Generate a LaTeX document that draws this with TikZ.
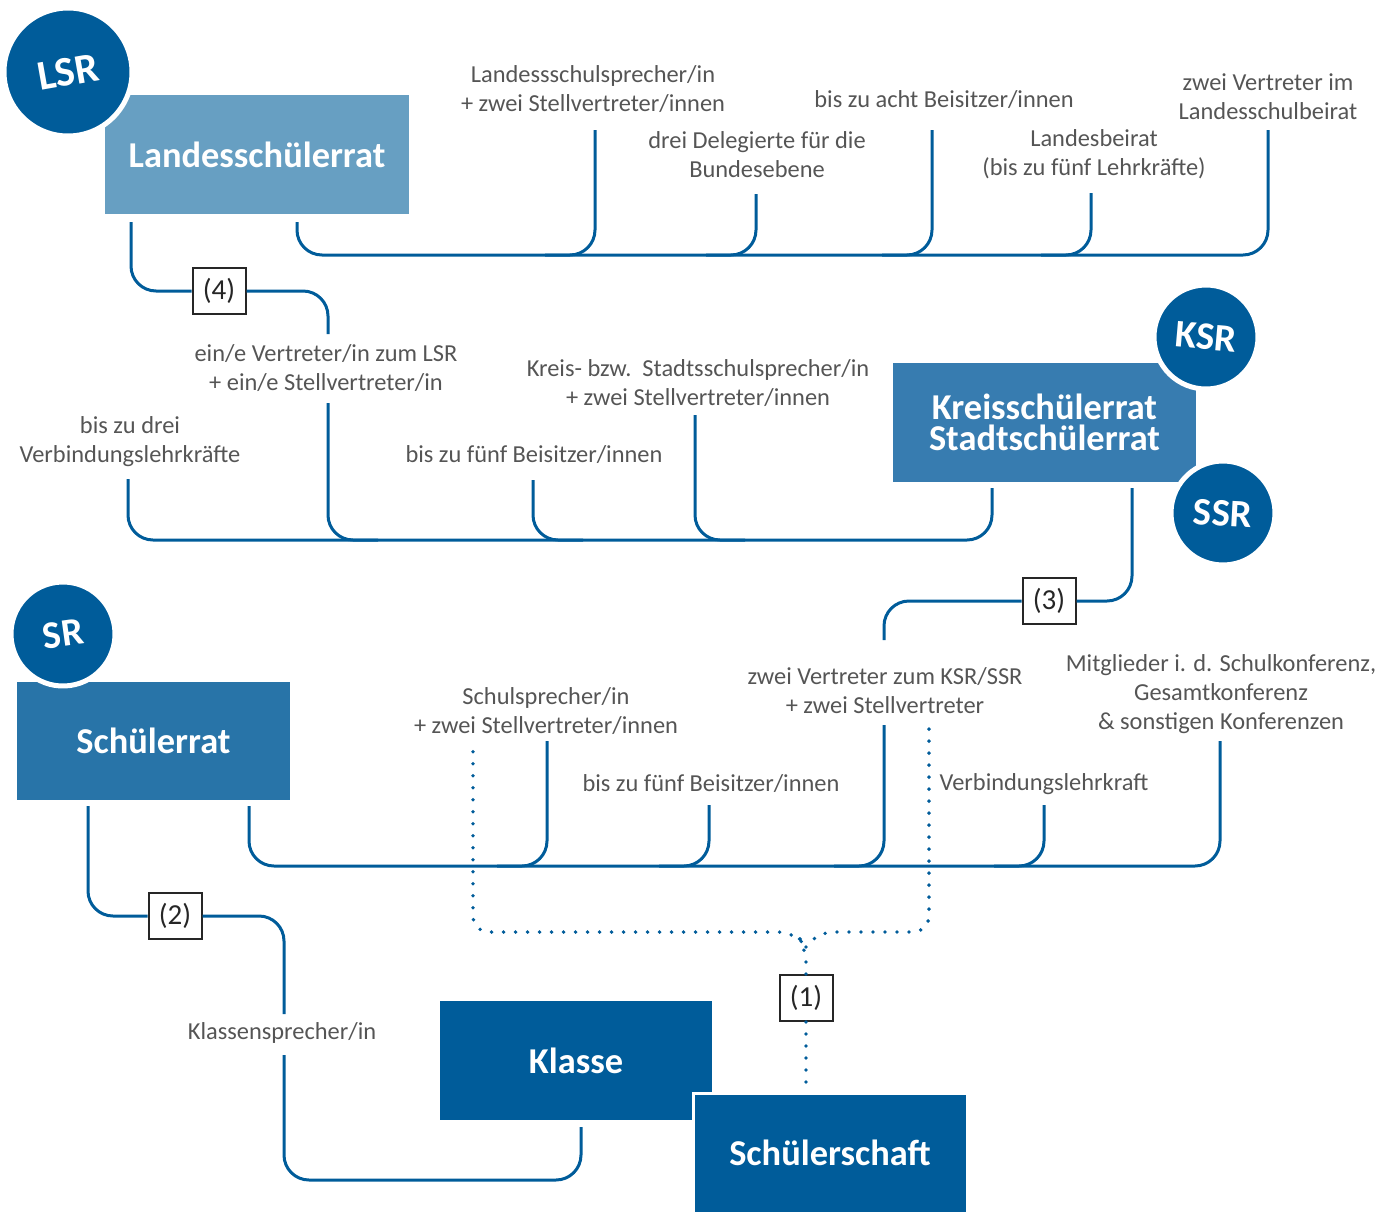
\documentclass[tikz,border=0pt]{standalone}
\usepackage{fontspec}
\setmainfont{Carlito}
\definecolor{dblue}{HTML}{005C9A}
\definecolor{lblue}{HTML}{679FC2}
\definecolor{mblue}{HTML}{377CB0}
\definecolor{sblue}{HTML}{2874A8}
\definecolor{tgrey}{HTML}{555555}
\begin{document}
\begin{tikzpicture}[x=0.5pt,y=-0.5pt,
  conn/.style={draw=dblue, line width=1.5pt, rounded corners=12.5pt},
  dotconn/.style={draw=dblue, line width=1.9pt, line cap=round, dash pattern=on 0pt off 6pt, rounded corners=8pt},
  lab/.style={text=tgrey, font=\fontsize{12.2}{14.5}\selectfont, align=center, inner sep=0pt},
  bigbox/.style={rectangle, text=white, inner sep=0pt, align=center, font=\bfseries\fontsize{18.2}{15.8}\selectfont},
  numbox/.style={rectangle, draw=black!85, line width=1pt, fill=white, minimum width=26.5pt, minimum height=23pt, font=\fontsize{14.5}{14.5}\selectfont, text=black!85, inner sep=0pt},
  circ/.style={circle, fill=dblue, draw=white, line width=2.5pt, text=white, font=\bfseries\fontsize{19.5}{19.5}\selectfont, inner sep=0pt, minimum size=52pt}]
\useasboundingbox (0,0) rectangle (1393,1211);

% ---------- top level: Landesschuelerrat ----------
\node[bigbox, fill=lblue, minimum width=152pt, minimum height=59.5pt] (lsrbox) at (257,154.5) {Landesschülerrat};
\node[circ, minimum size=64pt, font=\bfseries\fontsize{21}{21}\selectfont, rotate=10] (lsrc) at (68,72) {LSR};

\node[lab] (t1) at (593,89.5) {Landessschulsprecher/in\\+ zwei Stellvertreter/innen};
\node[lab] (t2) at (757,154.5) {drei Delegierte für die\\Bundesebene};
\node[lab] (t3) at (944,100) {bis zu acht Beisitzer/innen};
\node[lab] (t4) at (1094,154.5) {Landesbeirat\\(bis zu fünf Lehrkräfte)};
\node[lab] (t5) at (1268,97) {zwei Vertreter im\\Landesschulbeirat};

\coordinate (tb1) at (595,130);
\coordinate (tb2) at (756,194);
\coordinate (tb3) at (932,130);
\coordinate (tb4) at (1091,193);
\coordinate (tb5) at (1268,130);
\coordinate (ts) at (297,222);

\draw[conn] (ts) |- (tb5 |- 0,255) -- (tb5);
\foreach \b in {tb1,tb2,tb3,tb4}
  \draw[conn] (\b) |- ([xshift=-25pt]\b |- 0,255);

% ---------- connector (4) ----------
\node[numbox] (n4) at (219,291) {(4)};
\coordinate (s4) at (131,222);
\coordinate (e4) at (328,334);
\draw[conn] (s4) |- (n4.west);
\draw[conn] (n4.east) -| (e4);

% ---------- middle level: Kreisschuelerrat ----------
\node[bigbox, fill=mblue, minimum width=151.5pt, minimum height=59.5pt] (ksrbox) at (1044.5,422.5) {Kreisschülerrat\\Stadtschülerrat};
\node[circ, rotate=-5] (ksrc) at (1206,337) {KSR};
\node[circ, rotate=-3] (ssrc) at (1223,513) {SSR};

\node[lab] (m1) at (130,441.5) {bis zu drei\\Verbindungslehrkräfte};
\node[lab] (m2) at (326,368.5) {ein/e Vertreter/in zum LSR\\+ ein/e Stellvertreter/in};
\node[lab] (m3) at (534,455) {bis zu fünf Beisitzer/innen};
\node[lab] (m4) at (698,383) {Kreis- bzw.\ \ Stadtsschulsprecher/in\\+ zwei Stellvertreter/innen};

\coordinate (mb0) at (128,479);
\coordinate (mb1) at (328,403);
\coordinate (mb2) at (533,480);
\coordinate (mb3) at (695,415);
\coordinate (mb4) at (992,488);

\draw[conn] (mb0) |- (mb4 |- 0,540) -- (mb4);
\foreach \b in {mb1,mb2,mb3}
  \draw[conn] (\b) |- ([xshift=25pt]\b |- 0,540);

% ---------- connector (3) ----------
\node[numbox] (n3) at (1049,601) {(3)};
\coordinate (s3) at (1132,488);
\coordinate (e3) at (884,640);
\draw[conn] (s3) |- (n3.east);
\draw[conn] (n3.west) -| (e3);

% ---------- school level: Schuelerrat ----------
\node[bigbox, fill=sblue, minimum width=136.5pt, minimum height=59pt] (srbox) at (153.5,741) {Schülerrat};
\node[circ, rotate=8] (src) at (63,634) {SR};

\node[lab] (b1) at (546,711.5) {Schulsprecher/in\\+ zwei Stellvertreter/innen};
\node[lab] (b2) at (711,784) {bis zu fünf Beisitzer/innen};
\node[lab] (b3) at (885,691) {zwei Vertreter zum KSR/SSR\\+ zwei Stellvertreter};
\node[lab] (b4) at (1044,784) {Verbindungslehrkraft};
\node[lab] (b5) at (1221,694) {Mitglieder i. d. Schulkonferenz,\\Gesamtkonferenz\\\& sonstigen Konferenzen};

\coordinate (bb0) at (249,806);
\coordinate (bb1) at (547,741);
\coordinate (bb2) at (709,805);
\coordinate (bb3) at (884,725);
\coordinate (bb4) at (1044,805);
\coordinate (bb5) at (1220,741);

\draw[conn] (bb0) |- (bb5 |- 0,866) -- (bb5);
\foreach \b in {bb1,bb2,bb3,bb4}
  \draw[conn] (\b) |- ([xshift=-25pt]\b |- 0,866);

% ---------- connector (2) ----------
\node[numbox] (n2) at (175,916) {(2)};
\coordinate (s2) at (88,806);
\coordinate (e2) at (284,1014);
\draw[conn] (s2) |- (n2.west);
\draw[conn] (n2.east) -| (e2);
\node[lab] (kl) at (282,1033) {Klassensprecher/in};

% ---------- class level ----------
\node[bigbox, fill=dblue, minimum width=136pt, minimum height=59.5pt] (klasse) at (576,1060.5) {Klasse};
\node[bigbox, fill=dblue, draw=white, line width=1.5pt, minimum width=137pt, minimum height=60pt] (schaft) at (830,1153) {Schülerschaft};

\coordinate (k2) at (284,1055);
\coordinate (k3) at (581,1127);
\draw[conn] (k2) |- (k3 |- 0,1180) -- (k3);

% ---------- connector (1), dotted ----------
\node[numbox] (n1) at (806,998) {(1)};
\coordinate (d1) at (473,741);
\coordinate (d2) at (929,727);
\draw[dotconn] (n1.south) -- (n1.south |- schaft.north);
\draw[dotconn] (n1.north) -- (806,947) -- (795,932) -- (d1 |- 0,932) -- (d1);
\draw[dotconn] (806,947) -- (817,932) -- (d2 |- 0,932) -- (d2);
\end{tikzpicture}
\end{document}
